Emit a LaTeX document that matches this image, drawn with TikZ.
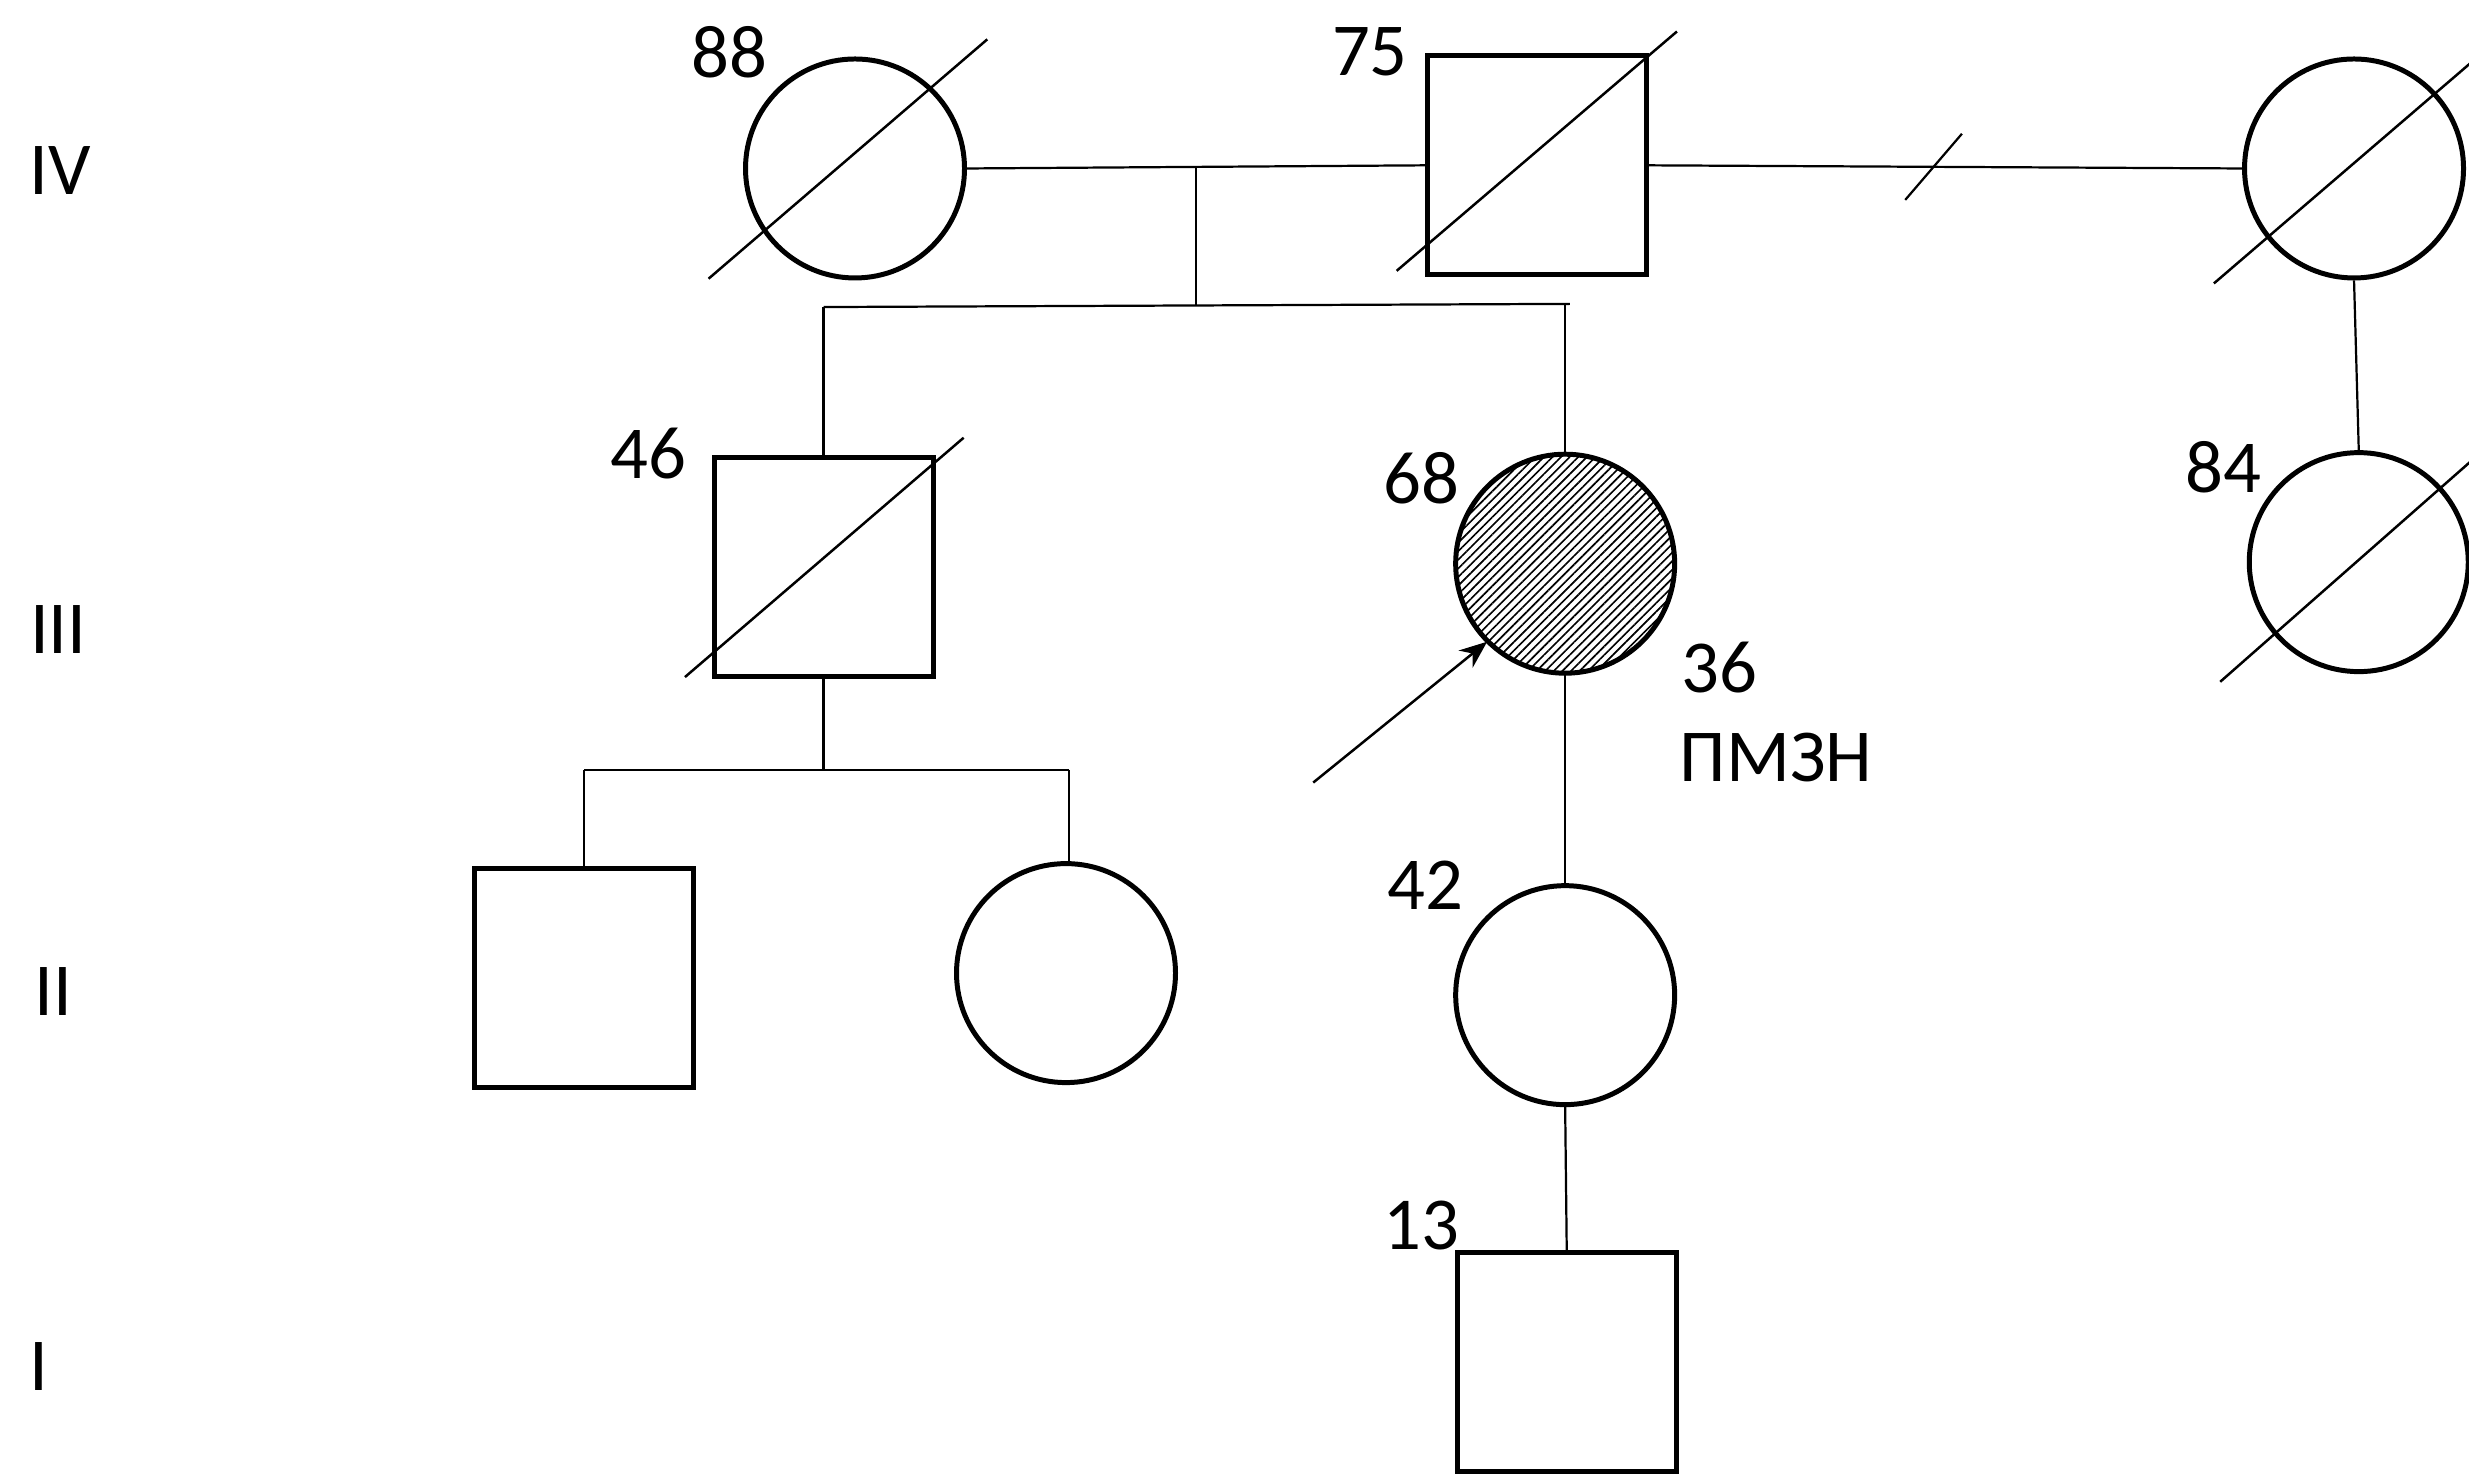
\documentclass[tikz,border=0pt]{standalone}
\usepackage{fontspec}
\setmainfont{Carlito}
\usetikzlibrary{calc,patterns.meta,arrows.meta}
\begin{document}
\begin{tikzpicture}[x=0.01cm,y=-0.01cm,
  person/.style={draw,line width=0.9pt,inner sep=0pt,minimum size=1.39cm},
  female/.style={person,circle},
  male/.style={person,rectangle},
  lbl/.style={font=\fontsize{13.5}{15}\selectfont,inner sep=0pt},
  thin/.style={line width=0.4pt},
  slash/.style={line width=0.45pt}]
\clip (0,0) rectangle (1568,937);
\fill[white] (0,0) rectangle (1568,937);
% generation labels
\node[lbl] (gIV) at (38,108) {IV};
\node[lbl] (gIII) at (37,400) {III};
\node[lbl] (gII) at (34,630) {II};
\node[lbl] (gI) at (25,868) {I};
% generation IV
\node[female] (c88) at (543,107) {};
\node[male] (s75) at (976,105) {};
\node[female] (cR) at (1495,107) {};
% generation III
\node[male] (s46) at (523,360) {};
\node[female,pattern={Lines[angle=45,distance=1.1pt,line width=0.3pt]}] (pro) at (994,358) {};
\node[female] (c84) at (1498,357) {};
% generation II
\node[male] (sII) at (371,621) {};
\node[female] (cII) at (677,618) {};
\node[female] (c42) at (994,632) {};
% generation I
\node[male] (s13) at (995,865) {};
% ages
\node[lbl] (a88) at (463,33) {88};
\node[lbl] (a75) at (870,33) {75};
\node[lbl] (a46) at (412,288) {46};
\node[lbl] (a68) at (903,304) {68};
\node[lbl] (a84) at (1412,297) {84};
\node[lbl] (a36) at (1092,424) {36};
\node[lbl] (dx) at (1128,481) {ПМЗН};
\node[lbl] (a42) at (905,562) {42};
\node[lbl] (a13) at (903,778) {13};
% slashes (deceased)
\draw[slash] ($(c88.center)+(-93,70)$) -- ($(c88.center)+(84,-82)$);
\draw[slash] ($(s75.center)+(-89,67)$) -- ($(s75.center)+(89,-85)$);
\draw[slash] ($(cR.center)+(-89,73)$) -- ($(cR.center)+(95,-85)$);
\draw[slash] ($(s46.center)+(-88,70)$) -- ($(s46.center)+(89,-82)$);
\draw[slash] ($(c84.center)+(-88,76)$) -- ($(c84.center)+(95,-85)$);
% marriages
\draw[thin] (c88.east) -- coordinate[pos=0.5] (m1) (s75.west);
\draw[thin] (s75.east) -- coordinate[pos=0.48] (m2) (cR.west);
\draw[thin] ($(m2)+(-18,21)$) -- ($(m2)+(18,-21)$);
% sibship of generation III
\coordinate (sib1) at (m1 |- 0,194);
\coordinate (sibL) at (s46.north |- 0,195);
\coordinate (sibR) at (997,193);
\draw[thin] (m1) -- (sib1);
\draw[thin] (sibL) -- (sibR);
\draw[thin] (sibL) -- (s46.north);
\draw[thin] (pro.north |- sibR) -- (pro.north);
\draw[thin] (cR.south) -- (c84.north);
% children of 46
\coordinate (sib2) at (s46.south |- 0,489);
\coordinate (sib2L) at (sII.north |- 0,489);
\coordinate (sib2R) at (679,489);
\draw[thin] (s46.south) -- (sib2);
\draw[thin] (sib2L) -- (sib2R);
\draw[thin] (sib2L) -- (sII.north);
\draw[thin] (sib2R) -- (679,550);
% line of descent of proband
\draw[thin] (pro.south) -- (c42.north);
\draw[thin] (c42.south) -- (s13.north);
% proband arrow
\coordinate (arr) at (834,497);
\draw[line width=0.45pt,-{Stealth[length=5pt,width=4pt]}] (arr) -- (pro.225);
\end{tikzpicture}
\end{document}
